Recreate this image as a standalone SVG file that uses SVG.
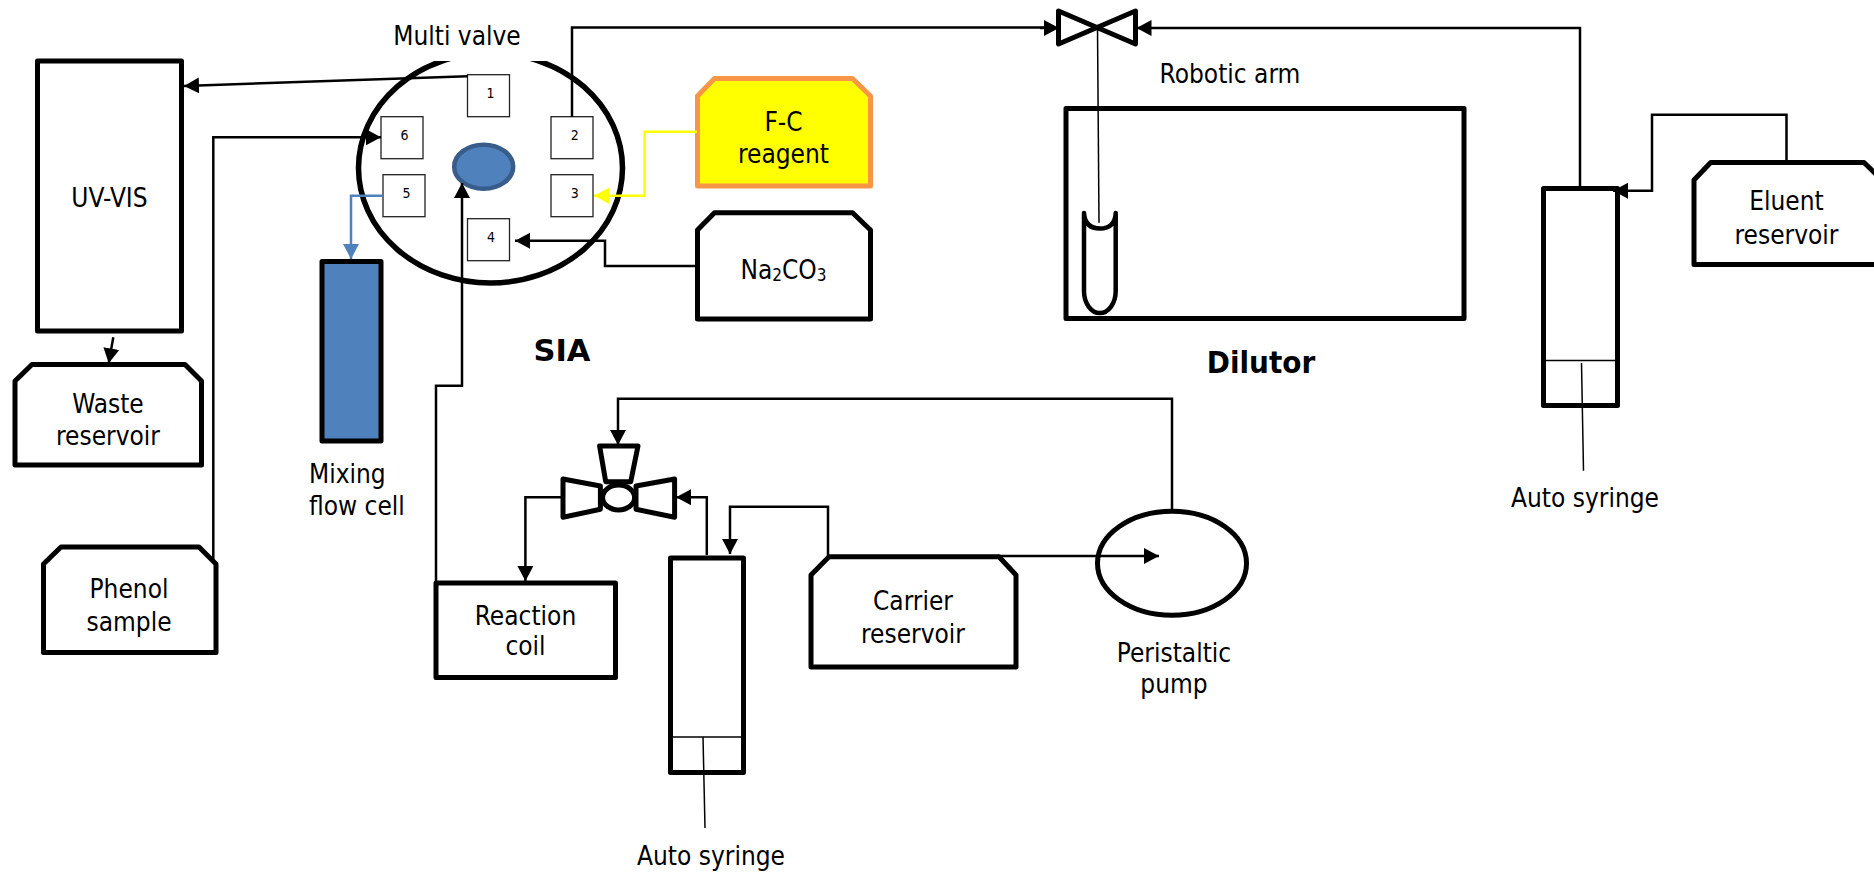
<svg xmlns="http://www.w3.org/2000/svg" width="1874" height="872" viewBox="0 0 1874 872">
<style>
text{font-family:"DejaVu Sans Condensed","DejaVu Sans",sans-serif;font-stretch:condensed;font-size:26px;fill:#000;text-anchor:middle}
.b{font-weight:700;font-size:31px}
.s{font-size:14px}
.box{fill:#fff;stroke:#000;stroke-width:5;stroke-linejoin:round}
.thin{fill:none;stroke:#000;stroke-width:1.5}
.port{fill:#fff;stroke:#222;stroke-width:1.3}
.c{fill:none;stroke:#000;stroke-width:2.5}
.ck{marker-end:url(#a)}
</style>
<defs>
<marker id="a" markerUnits="userSpaceOnUse" markerWidth="16" markerHeight="18" refX="15" refY="8.5" orient="auto"><path d="M0 0.5 15 8.5 0 16.5z" fill="#000"/></marker>
<marker id="ab" markerUnits="userSpaceOnUse" markerWidth="16" markerHeight="18" refX="15" refY="8.5" orient="auto"><path d="M0 0.5 15 8.5 0 16.5z" fill="#4f81bd"/></marker>
<marker id="ay" markerUnits="userSpaceOnUse" markerWidth="16" markerHeight="18" refX="15" refY="8.5" orient="auto"><path d="M0 0.5 15 8.5 0 16.5z" fill="#ffff00"/></marker>
<clipPath id="cv"><rect x="340" y="61" width="300" height="240"/></clipPath>
</defs>

<g id="uvvis"><rect class="box" x="37.5" y="61" width="144" height="270"/><text x="109.5" y="207">UV-VIS</text></g>
<g id="waste"><path class="box" d="M15 381 32 364.500H185L201.500 381V465H15z"/><text x="108" y="413">Waste</text><text x="108" y="445">reservoir</text></g>
<g id="phenol"><path class="box" d="M43.500 564 61 547H199L216 564V652.500H43.500z"/><text x="129" y="598">Phenol</text><text x="129" y="630.500">sample</text></g>
<g id="cell"><rect x="322" y="261.500" width="59" height="179.500" fill="#4f81bd" stroke="#000" stroke-width="5" stroke-linejoin="round"/><text x="309" y="483" style="text-anchor:start">Mixing</text><text x="309" y="515" style="text-anchor:start">flow cell</text></g>

<g id="multivalve">
<ellipse cx="490.500" cy="168" rx="132" ry="115" fill="#fff" stroke="#000" stroke-width="5.500" clip-path="url(#cv)"/>
<ellipse cx="483.700" cy="166.700" rx="29.500" ry="22" fill="#4f81bd" stroke="#385d8a" stroke-width="4.500"/>
<text x="457" y="45">Multi valve</text>
</g>
<g id="p1"><rect class="port" x="467.500" y="74.700" width="42" height="42"/><text class="s" x="490.500" y="98">1</text></g>
<g id="p2"><rect class="port" x="551" y="116.700" width="42" height="42"/><text class="s" x="574.700" y="140">2</text></g>
<g id="p3"><rect class="port" x="551" y="174.700" width="42" height="42"/><text class="s" x="574.700" y="198">3</text></g>
<g id="p4"><rect class="port" x="467.500" y="218.700" width="42" height="42"/><text class="s" x="491" y="242">4</text></g>
<g id="p5"><rect class="port" x="383" y="174.700" width="42" height="42"/><text class="s" x="406.500" y="198">5</text></g>
<g id="p6"><rect class="port" x="381" y="116.700" width="42" height="42"/><text class="s" x="404.500" y="140">6</text></g>

<g id="fc"><path d="M697.500 96 714.500 78.500H852.500L870.500 96V186H697.500z" fill="#ffff00" stroke="#f79646" stroke-width="5" stroke-linejoin="round"/><text x="783.500" y="130.500">F-C</text><text x="783.500" y="162.500">reagent</text></g>
<g id="na"><path class="box" d="M697.500 230 714.500 212.700H852.500L870.500 230V319H697.500z"/><text x="783.500" y="279">Na<tspan font-size="17" dy="2">2</tspan><tspan dy="-2">CO</tspan><tspan font-size="17" dy="2">3</tspan></text></g>

<g id="diluter"><rect class="box" x="1066" y="108.500" width="398" height="210"/><path d="M1084 213V291A15.800 22 0 0 0 1115.700 291V213M1084 213Q1085 228.500 1100 228.500T1115.700 213" fill="none" stroke="#000" stroke-width="4.500" stroke-linecap="round"/><text x="1230" y="83">Robotic arm</text><text class="b" x="1261" y="372.500">Dilutor</text></g>
<text class="b" x="562" y="360.500" textLength="57" lengthAdjust="spacingAndGlyphs">SIA</text>
<g id="tube-valve"><path class="box" style="fill:none" d="M1058.500 11 1135.500 44V11L1058.500 44z"/></g>

<g id="syringe1"><rect class="box" x="1543.500" y="188.500" width="74" height="217"/><path class="thin" d="M1543.500 360.500H1617.500M1581.500 363 1583.500 470.700"/><text x="1585" y="506.500">Auto syringe</text></g>
<g id="eluent"><path class="box" d="M1694 180 1710.700 162.500H1864L1882 180V264.500H1694z"/><text x="1786.500" y="210">Eluent</text><text x="1786.500" y="244">reservoir</text></g>

<g id="threeway">
<path class="box" d="M599.600 446H638L630.700 481.700H605.700z"/>
<path class="box" d="M563 479 600.400 486V509.300L563 517.300z"/>
<path class="box" d="M674.600 479 636 486V509.300L674.600 517.300z"/>
<ellipse class="box" cx="618.600" cy="497.500" rx="16" ry="12.500"/>
</g>
<g id="coil"><rect class="box" x="436" y="583" width="179.500" height="94.500"/><text x="525.500" y="625">Reaction</text><text x="525.500" y="655">coil</text></g>
<g id="syringe2"><rect class="box" x="670.500" y="558" width="73" height="214.500"/><path class="thin" d="M670.500 737H743.500M703 737 705 828"/><text x="711" y="865">Auto syringe</text></g>
<g id="carrier"><path class="box" d="M811 575 829 556.700H999L1016 575V667H811z"/><text x="913" y="610">Carrier</text><text x="913" y="643">reservoir</text></g>
<g id="pump"><ellipse class="box" cx="1172" cy="563.300" rx="74.500" ry="52"/><text x="1174" y="661.500">Peristaltic</text><text x="1174" y="693">pump</text></g>

<g id="connectors">
<path class="c ck" d="M467.500 76.300 184 86"/>
<path class="c ck" d="M213.300 561V137.300H381"/>
<path d="M383 195.700H351V259" fill="none" stroke="#4f81bd" stroke-width="2.500" marker-end="url(#ab)"/>
<path class="c ck" d="M436 581V385.700H462V183"/>
<path class="c" d="M572 116.700V27.500H1044"/><path class="c ck" d="M1040 28H1059"/>
<path class="c ck" d="M1580 188V28H1136.500"/>
<path class="thin" d="M1097.500 28 1099 222.700"/>
<path class="c ck" d="M1786.500 162V114.700H1652V190.700H1613"/>
<path d="M697 131.700H644.600V195.700H594" fill="none" stroke="#ffff00" stroke-width="2.500" marker-end="url(#ay)"/>
<path class="c ck" d="M697 266H605V240.700H515"/>
<path class="c ck" d="M113.300 337.300 108.700 363.300"/>
<path class="c ck" d="M1172 511V398.700H618V445"/>
<path class="c ck" d="M706.800 555V497.300H676"/>
<path class="c ck" d="M563 497.300H525.400V581"/>
<path class="c ck" d="M828 556V506.700H730V554"/>
<path class="c ck" d="M998 556H1159"/>
</g>
</svg>
